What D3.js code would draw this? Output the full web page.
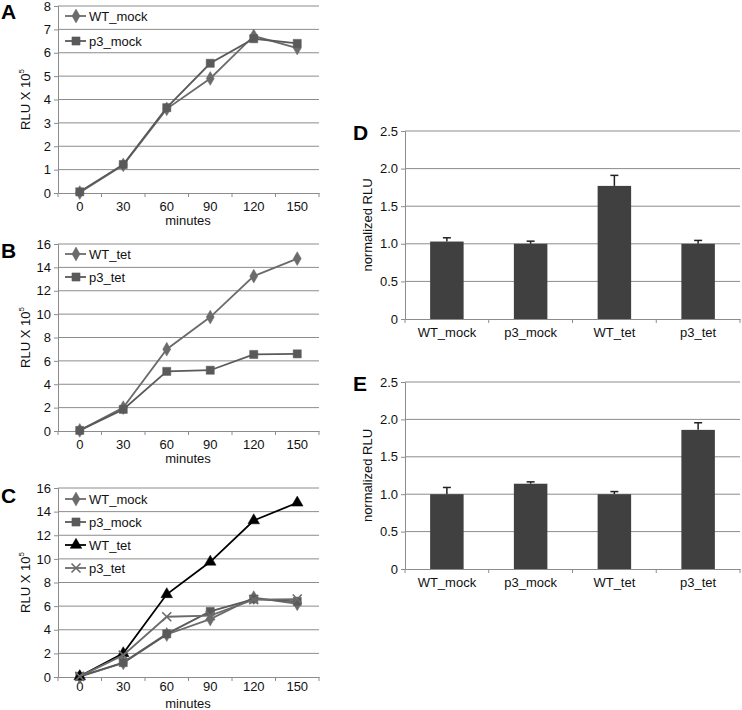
<!DOCTYPE html>
<html><head><meta charset="utf-8">
<script src="https://cdn.jsdelivr.net/npm/d3@7"></script>
<style>body{margin:0;background:#fff}svg{display:block;font-family:"Liberation Sans",Arial,sans-serif}</style>
</head><body>
<svg id="c" width="742" height="710"></svg>
<script>
// ---- data ----
const minutes = ["0","30","60","90","120","150"];
const WT_mock = [0.02, 1.2, 3.6, 4.9, 6.72, 6.2];
const p3_mock = [0.05, 1.22, 3.65, 5.55, 6.6, 6.4];
const WT_tet  = [0.05, 2.0, 7.0, 9.75, 13.25, 14.75];
const p3_tet  = [0.05, 1.85, 5.1, 5.2, 6.55, 6.6];
const groups = ["WT_mock","p3_mock","WT_tet","p3_tet"];
const D_values = [1.03, 1.0, 1.77, 1.0];
const D_errors = [0.05, 0.035, 0.14, 0.045];
const E_values = [1.0, 1.14, 1.0, 1.86];
const E_errors = [0.09, 0.025, 0.035, 0.095];
const yTicksA = [0,1,2,3,4,5,6,7,8];
const yTicksBC = [0,2,4,6,8,10,12,14,16];
const yTicksBar = [0,0.5,1.0,1.5,2.0,2.5];

const svg = d3.select("#c");
const gridCol = "#8c8c8c", axisCol = "#8c8c8c", txt = "#111";

const S = {
  diamond:{color:"#6b6b6b", sym:d3.symbolDiamond, size:55},
  square:{color:"#5a5a5a", sym:d3.symbolSquare, size:66},
  triangle:{color:"#000", sym:d3.symbolTriangle, size:58},
  x:{color:"#6b6b6b", sym:"x", size:0}
};
function marker(g, s, x, y){
  if (s.sym === "x") {
    g.append("path").attr("d", `M${x-4.5},${y-4.5}L${x+4.5},${y+4.5}M${x-4.5},${y+4.5}L${x+4.5},${y-4.5}`)
      .attr("stroke", s.color).attr("stroke-width", 1.6);
  } else {
    g.append("path").attr("d", d3.symbol(s.sym, s.size)()).attr("transform", `translate(${x},${y})`)
      .attr("fill", s.color).attr("stroke", s.color).attr("stroke-width", 0.5);
  }
}

function lineChart(o){
  const g = svg.append("g");
  const x = d3.scaleBand().domain(minutes).range([58, 319]);
  const y = d3.scaleLinear().domain([0, o.max]).range([o.y0, o.y1]);
  g.selectAll(".gr").data(o.ticks.filter(t=>t>0)).join("line")
    .attr("x1",58).attr("x2",319).attr("y1",d=>y(d)).attr("y2",d=>y(d))
    .attr("stroke",gridCol).attr("stroke-width",1);
  const ya = g.append("g").attr("transform","translate(58,0)")
    .call(d3.axisLeft(y).tickValues(o.ticks).tickSize(4).tickPadding(3).tickFormat(d3.format("d")));
  ya.select(".domain").attr("stroke",axisCol);
  ya.selectAll(".tick line").attr("stroke",axisCol);
  ya.selectAll("text").attr("font-size",13).attr("fill",txt).attr("font-family","Liberation Sans, Arial");
  const xa = g.append("g").attr("transform",`translate(0,${o.y0})`)
    .call(d3.axisBottom(x).tickSize(0).tickPadding(o.xPad));
  xa.select(".domain").attr("stroke",axisCol);
  xa.selectAll("text").attr("font-size",13).attr("fill",txt).attr("font-family","Liberation Sans, Arial");
  const bounds = d3.range(minutes.length+1).map(i=>58 + i*x.step());
  g.selectAll(".bt").data(bounds).join("line")
    .attr("x1",d=>d).attr("x2",d=>d).attr("y1",o.y0).attr("y2",o.y0+4).attr("stroke",axisCol);
  g.append("text").attr("x",188).attr("y",o.y0+o.minY).attr("text-anchor","middle")
    .attr("font-size",13).attr("fill",txt).text("minutes");
  const yl = g.append("text").attr("transform",`translate(30,${(o.y0+o.y1)/2}) rotate(-90)`)
    .attr("text-anchor","middle").attr("font-size",13).attr("fill",txt);
  yl.append("tspan").text("RLU X 10");
  yl.append("tspan").attr("font-size",8).attr("dy",-6).text("5");
  const line = d3.line().x((d,i)=>x(minutes[i])+x.bandwidth()/2).y(d=>y(d));
  o.series.forEach(s=>{
    const st = S[s.style];
    g.append("path").attr("d",line(s.values)).attr("fill","none")
      .attr("stroke",st.color).attr("stroke-width",1.8);
    s.values.forEach((v,i)=>marker(g, st, x(minutes[i])+x.bandwidth()/2, y(v)));
  });
  o.series.forEach((s,i)=>{
    const ly = o.legY + i*o.legStep;
    g.append("line").attr("x1",65).attr("x2",86).attr("y1",ly).attr("y2",ly)
      .attr("stroke",S[s.style].color).attr("stroke-width",1.8);
    marker(g, S[s.style], 76, ly);
    g.append("text").attr("x",89).attr("y",ly+5).attr("font-size",13).attr("fill",txt).text(s.name);
  });
  svg.append("text").attr("x",1).attr("y",o.letterY).attr("font-size",21).attr("font-weight","bold")
    .attr("font-family","Liberation Sans, Arial").text(o.letter);
}

lineChart({letter:"A", letterY:19, max:8, ticks:yTicksA, y0:193, y1:6, legY:16, legStep:25, minY:32, xPad:9,
  series:[{name:"WT_mock",values:WT_mock,style:"diamond"},{name:"p3_mock",values:p3_mock,style:"square"}]});
lineChart({letter:"B", letterY:258, max:16, ticks:yTicksBC, y0:431, y1:244, legY:254, legStep:23, minY:32, xPad:9,
  series:[{name:"WT_tet",values:WT_tet,style:"diamond"},{name:"p3_tet",values:p3_tet,style:"square"}]});
lineChart({letter:"C", letterY:503, max:16, ticks:yTicksBC, y0:677, y1:488, legY:499, legStep:23, minY:31, xPad:5,
  series:[{name:"WT_mock",values:WT_mock,style:"diamond"},{name:"p3_mock",values:p3_mock,style:"square"},
          {name:"WT_tet",values:WT_tet,style:"triangle"},{name:"p3_tet",values:p3_tet,style:"x"}]});

function barChart(o){
  const g = svg.append("g");
  const xb = d3.scaleBand().domain(groups).range([405, 740]);
  const y = d3.scaleLinear().domain([0, 2.5]).range([o.y0, o.y1]);
  g.selectAll(".gr").data(yTicksBar.filter(t=>t>0)).join("line")
    .attr("x1",405).attr("x2",740).attr("y1",d=>y(d)).attr("y2",d=>y(d))
    .attr("stroke",gridCol).attr("stroke-width",1);
  const ya = g.append("g").attr("transform","translate(405,0)")
    .call(d3.axisLeft(y).tickValues(yTicksBar).tickSize(4).tickPadding(3).tickFormat(d=>d===0?"0":d3.format(".1f")(d)));
  ya.select(".domain").attr("stroke",axisCol);
  ya.selectAll(".tick line").attr("stroke",axisCol);
  ya.selectAll("text").attr("font-size",13).attr("fill",txt).attr("font-family","Liberation Sans, Arial");
  const xa = g.append("g").attr("transform",`translate(0,${o.y0})`)
    .call(d3.axisBottom(xb).tickSize(0).tickPadding(9));
  xa.select(".domain").attr("stroke",axisCol);
  xa.selectAll("text").attr("font-size",13).attr("fill",txt).attr("font-family","Liberation Sans, Arial");
  const bounds = d3.range(groups.length+1).map(i=>405 + i*xb.step());
  g.selectAll(".bt").data(bounds).join("line")
    .attr("x1",d=>d).attr("x2",d=>d).attr("y1",o.y0).attr("y2",o.y0+4).attr("stroke",axisCol);
  groups.forEach((k,i)=>{
    const cx = xb(k)+xb.bandwidth()/2;
    const top = y(o.values[i]+o.errors[i]);
    g.append("line").attr("x1",cx).attr("x2",cx).attr("y1",y(o.values[i])).attr("y2",top)
      .attr("stroke","#222").attr("stroke-width",1.5);
    g.append("line").attr("x1",cx-4).attr("x2",cx+4).attr("y1",top).attr("y2",top)
      .attr("stroke","#222").attr("stroke-width",1.5);
  });
  const bw = xb.step()*0.4;
  g.selectAll(".bar").data(groups).join("rect")
    .attr("x",d=>xb(d)+xb.bandwidth()/2-bw/2).attr("width",bw)
    .attr("y",(d,i)=>y(o.values[i])).attr("height",(d,i)=>o.y0-y(o.values[i]))
    .attr("fill","#404040");
  g.append("text").attr("transform",`translate(372,${(o.y0+o.y1)/2}) rotate(-90)`)
    .attr("text-anchor","middle").attr("font-size",13).attr("fill",txt).text("normalized RLU");
  svg.append("text").attr("x",353).attr("y",o.letterY).attr("font-size",21).attr("font-weight","bold")
    .attr("font-family","Liberation Sans, Arial").text(o.letter);
}
barChart({letter:"D", letterY:140, y0:319, y1:131, values:D_values, errors:D_errors});
barChart({letter:"E", letterY:391, y0:569, y1:382, values:E_values, errors:E_errors});
</script>
</body></html>
